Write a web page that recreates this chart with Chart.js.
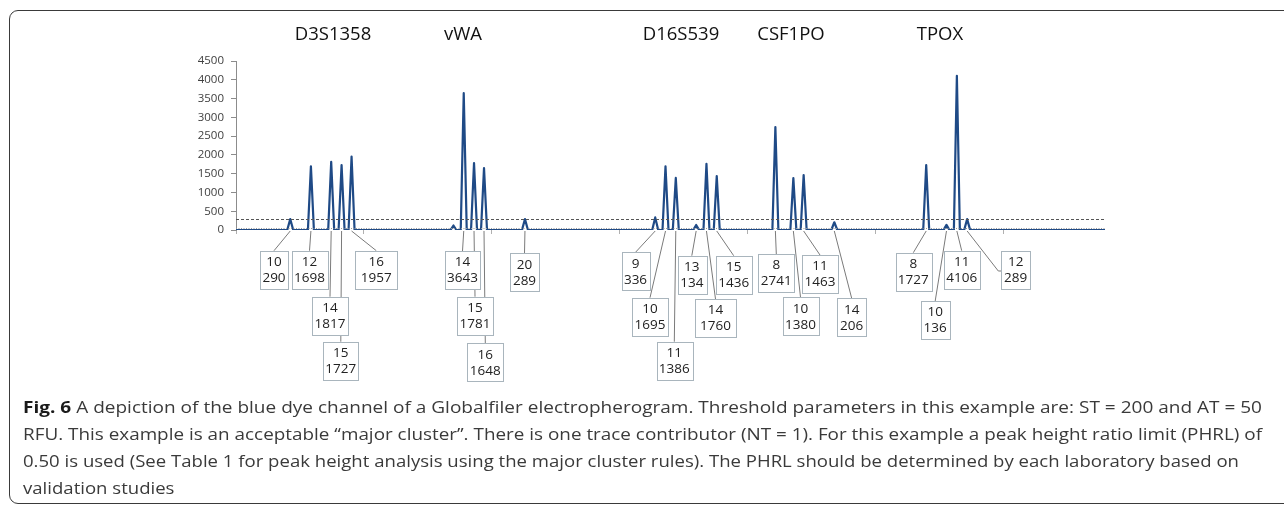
<!DOCTYPE html>
<html>
<head>
<meta charset="utf-8">
<script src="https://cdn.jsdelivr.net/npm/chart.js@4.4.1/dist/chart.umd.min.js"></script>
<style>
  html, body { margin: 0; padding: 0; background: #fff; }
  body { width: 1284px; height: 506px; overflow: hidden; position: relative; }
  #frame { position: absolute; left: 9px; top: 10px; width: 1400px; height: 494px;
           border: 1.6px solid #3a3a3a; border-radius: 9px; box-sizing: border-box; }
  #chart { position: absolute; left: 0; top: 0; }
  .cap { position: absolute; left: 23px; white-space: nowrap; font-family: "Open Sans", sans-serif;
         font-size: 15.5px; line-height: 20px; color: #3a3a3a; transform-origin: 0 0; }
  .cap b { color: #1a1a1a; }
</style>
</head>
<body>
<div id="frame"></div>
<canvas id="chart" width="1284" height="506"></canvas>
<div class="cap" id="c1" style="top:397px"><b>Fig. 6</b> A depiction of the blue dye channel of a Globalfiler electropherogram. Threshold parameters in this example are: ST = 200 and AT = 50</div>
<div class="cap" id="c2" style="top:424px">RFU. This example is an acceptable “major cluster”. There is one trace contributor (NT = 1). For this example a peak height ratio limit (PHRL) of</div>
<div class="cap" id="c3" style="top:451px">0.50 is used (See Table 1 for peak height analysis using the major cluster rules). The PHRL should be determined by each laboratory based on</div>
<div class="cap" id="c4" style="top:478px">validation studies</div>
<script>
// ---------------- DATA ----------------
const lociNames = ['D3S1358', 'vWA', 'D16S539', 'CSF1PO', 'TPOX'];
const yTickValues = [0, 500, 1000, 1500, 2000, 2500, 3000, 3500, 4000, 4500];
const alleleLabels = ['10','12','14','15','16', '14','15','16','20', '9','10','11','13','14','15', '8','10','11','14', '8','10','11','12'];
const peakPositions = [54.3, 75, 95.3, 105.7, 115.7, 228, 238.3, 248.3, 289.3, 419.7, 430, 440.3, 460.7, 471, 481.3, 540, 558, 568.3, 599, 691, 711.3, 721.7, 732];
const peakHeights = [290, 1698, 1817, 1727, 1957, 3643, 1781, 1648, 289, 336, 1695, 1386, 134, 1760, 1436, 2741, 1380, 1463, 206, 1727, 136, 4106, 289];
const unlabeledPositions = [217.7];
const unlabeledHeights = [120];
const stutterLine = 290;     // dashed threshold line (RFU)
const analyticalLine = 50;   // dotted AT line (RFU)
const scanRange = [0, 870];
const xTickValues = [0, 128, 256, 384, 512, 640, 768];

// ---------------- LAYOUT (pixels, not data) ----------------
const titleX = [333, 463, 681, 791, 940];
const titleY = 34.5;
// per label: box centre x, box top y, box width, optional elbow [x,y]
const boxLayout = [
  [274, 250.7, 28], [309.5, 250.7, 36], [330, 296.7, 36], [340.8, 341.7, 35], [376.3, 250.7, 42],
  [462.5, 251, 35], [475, 296.7, 35.5], [485.3, 343.3, 36], [524.5, 253.3, 29],
  [635.5, 252.3, 28], [650, 297.7, 35.5], [674.3, 341.7, 35.5], [691.8, 255.7, 28.5], [715.5, 299, 41], [733.7, 255.7, 36],
  [776.3, 254, 36], [800.5, 297.3, 35.5], [820, 255, 35.5], [851.7, 298.3, 29],
  [913.3, 252.7, 35.5], [935.2, 301, 28.5], [961.7, 250.7, 35.5], [1015.7, 251, 29, [998.3, 271]]
];
const boxH = 38;
const peakHalfWidth = 3;

// build trace points from the peaks
const allPeaks = peakPositions.map((p, i) => ({ p, h: peakHeights[i] }))
  .concat(unlabeledPositions.map((p, i) => ({ p, h: unlabeledHeights[i] })))
  .sort((a, b) => a.p - b.p);
const trace = [{ x: scanRange[0], y: 0 }];
allPeaks.forEach(k => {
  trace.push({ x: k.p - peakHalfWidth, y: 0 });
  trace.push({ x: k.p, y: k.h });
  trace.push({ x: k.p + peakHalfWidth, y: 0 });
});
trace.push({ x: scanRange[1], y: 0 });

const annot = {
  id: 'annot',
  afterDatasetsDraw(chart) {
    const ctx = chart.ctx, xs = chart.scales.x, ys = chart.scales.y, a = chart.chartArea;
    ctx.save();
    ctx.lineWidth = 1;
    ctx.strokeStyle = '#555';
    ctx.setLineDash([3, 2]);
    let yy = Math.round(ys.getPixelForValue(stutterLine)) + 0.5;
    ctx.beginPath(); ctx.moveTo(a.left, yy); ctx.lineTo(a.right, yy); ctx.stroke();
    ctx.strokeStyle = '#9a9a9a';
    ctx.setLineDash([1, 1.5]);
    yy = Math.round(ys.getPixelForValue(analyticalLine)) + 0.5;
    ctx.beginPath(); ctx.moveTo(a.left, yy); ctx.lineTo(a.right, yy); ctx.stroke();
    ctx.setLineDash([]);
    const base = ys.getPixelForValue(0);
    ctx.strokeStyle = '#7a7a7a';
    ctx.lineWidth = 1;
    peakPositions.forEach((p, i) => {
      const L = boxLayout[i];
      const px = xs.getPixelForValue(p);
      ctx.beginPath();
      ctx.moveTo(px, base + 1);
      if (L[3]) {
        ctx.lineTo(L[3][0], L[3][1]);
        ctx.lineTo(L[0] - L[2] / 2, L[3][1]);
      } else {
        ctx.lineTo(L[0], L[1]);
      }
      ctx.stroke();
    });
    ctx.font = '13.5px "Open Sans"';
    ctx.textAlign = 'center';
    ctx.textBaseline = 'middle';
    peakPositions.forEach((p, i) => {
      const L = boxLayout[i];
      const x0 = Math.round(L[0] - L[2] / 2) + 0.5, y0 = Math.round(L[1]) + 0.5;
      ctx.fillStyle = '#fff';
      ctx.fillRect(x0, y0, Math.round(L[2]), boxH);
      ctx.strokeStyle = '#a9b5bd';
      ctx.strokeRect(x0, y0, Math.round(L[2]), boxH);
      ctx.fillStyle = '#222';
      ctx.fillText(alleleLabels[i], L[0], L[1] + 11.5);
      ctx.fillText(String(peakHeights[i]), L[0], L[1] + 27.5);
    });
    ctx.font = '18.5px "Open Sans"';
    ctx.fillStyle = '#111';
    lociNames.forEach((n, i) => ctx.fillText(n, titleX[i], titleY));
    ctx.restore();
  }
};

new Chart(document.getElementById('chart'), {
  type: 'line',
  data: {
    datasets: [{
      data: trace,
      borderColor: '#1f4a86',
      borderWidth: 2.2,
      pointRadius: 0,
      tension: 0,
      fill: false,
      borderJoinStyle: 'round'
    }]
  },
  options: {
    responsive: false,
    animation: false,
    events: [],
    layout: { padding: { left: 186, right: 179, top: 61, bottom: 272 } },
    plugins: { legend: { display: false }, tooltip: { enabled: false } },
    scales: {
      x: {
        type: 'linear', min: scanRange[0], max: scanRange[1],
        afterBuildTicks: s => { s.ticks = xTickValues.map(v => ({ value: v })); },
        ticks: { display: false },
        grid: { drawOnChartArea: false, tickLength: 4, color: '#b0b0b0' },
        border: { display: false },
        afterFit: s => { s.height = 4; }
      },
      y: {
        min: 0, max: 4500,
        afterBuildTicks: s => { s.ticks = yTickValues.map(v => ({ value: v })); },
        ticks: { font: { family: 'Open Sans', size: 11.5 }, color: '#404040', padding: 7,
                 callback: v => String(v) },
        grid: { drawOnChartArea: false, tickLength: 5, color: '#8c8c8c' },
        border: { color: '#8c8c8c' },
        afterFit: s => { s.width = 50; }
      }
    }
  },
  plugins: [annot]
});

// fit caption lines to their measured widths in the reference
const capTargets = { c1: 1239, c2: 1239, c3: 1216 };
let lastScale = 1;
Object.keys(capTargets).forEach(id => {
  const el = document.getElementById(id);
  const w = el.getBoundingClientRect().width;
  lastScale = capTargets[id] / w;
  el.style.transform = 'scaleX(' + lastScale + ')';
});
document.getElementById('c4').style.transform = 'scaleX(' + lastScale + ')';
</script>
</body>
</html>
